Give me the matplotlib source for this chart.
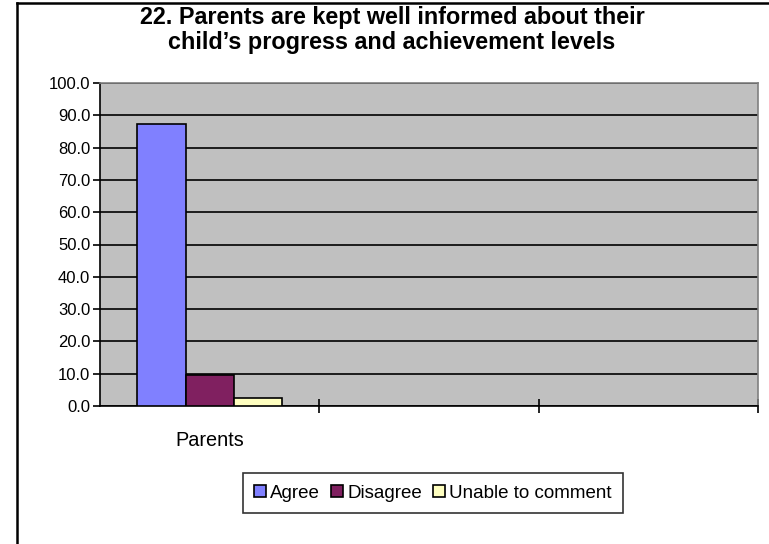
import matplotlib.pyplot as plt
import numpy as np
from matplotlib.lines import Line2D

# data
categories = ["Parents", "", ""]
series = ["Agree", "Disagree", "Unable to comment"]
agree = [87.2, np.nan, np.nan]
disagree = [9.5, np.nan, np.nan]
unable = [2.6, np.nan, np.nan]
colors = ["#8080FF", "#802060", "#FFFFC0"]
yticks = np.arange(0, 101, 10)

plt.rcParams['font.family'] = ['Liberation Sans', 'DejaVu Sans']

fig = plt.figure(figsize=(7.69, 5.44), dpi=100)
ax = fig.add_axes([100/769, 1-406/544, 658/769, 323/544])
ax.set_facecolor("#C0C0C0")

x = np.arange(len(categories))
w = 0.22
for i, (vals, c, lab) in enumerate(zip([agree, disagree, unable], colors, series)):
    ax.bar(x + (i-1)*w, vals, width=w, color=c, edgecolor="black",
           linewidth=1.2, label=lab, zorder=3)

ax.set_xlim(-0.5, 2.5)
ax.set_ylim(0, 100)
ax.set_yticks(yticks)
ax.set_yticklabels(["%.1f" % v for v in yticks])
ax.set_xticks(x)
ax.set_xticklabels(categories)
ax.set_xticks([0.5, 1.5, 2.5], minor=True)
ax.tick_params(axis='x', which='major', length=0, pad=18, labelsize=14.3)
ax.tick_params(axis='x', which='minor', direction='inout', length=10, width=1.2)
ax.tick_params(axis='y', direction='out', length=5, width=1.2, pad=2, labelsize=12)
ax.yaxis.grid(True, color="black", linewidth=1.2, zorder=1)
ax.set_axisbelow(True)
for s in ["left", "bottom"]:
    ax.spines[s].set_color("black")
    ax.spines[s].set_linewidth(1.2)
for s in ["top", "right"]:
    ax.spines[s].set_color("#808080")
    ax.spines[s].set_linewidth(1.2)

fig.text(392/769, 1-30/544, "22. Parents are kept well informed about their\nchild\u2019s progress and achievement levels",
         ha="center", va="center", fontsize=16.8, fontweight="bold", linespacing=1.1)

leg = fig.legend(loc="center", bbox_to_anchor=(433/769, 1-493/544), ncol=3,
                 frameon=True, fancybox=False, fontsize=13.5, handlelength=0.6,
                 handleheight=0.6, handletextpad=0.25, columnspacing=0.6,
                 borderpad=0.6, edgecolor="black")
leg.get_frame().set_linewidth(1.2)

# outer chart border (top and left visible)
fig.add_artist(Line2D([17/769, 17/769], [0, 1-3/544], transform=fig.transFigure,
                      color="black", linewidth=1.8))
fig.add_artist(Line2D([17/769, 1], [1-3/544, 1-3/544], transform=fig.transFigure,
                      color="black", linewidth=1.8))

fig.savefig("out.png", dpi=100)
